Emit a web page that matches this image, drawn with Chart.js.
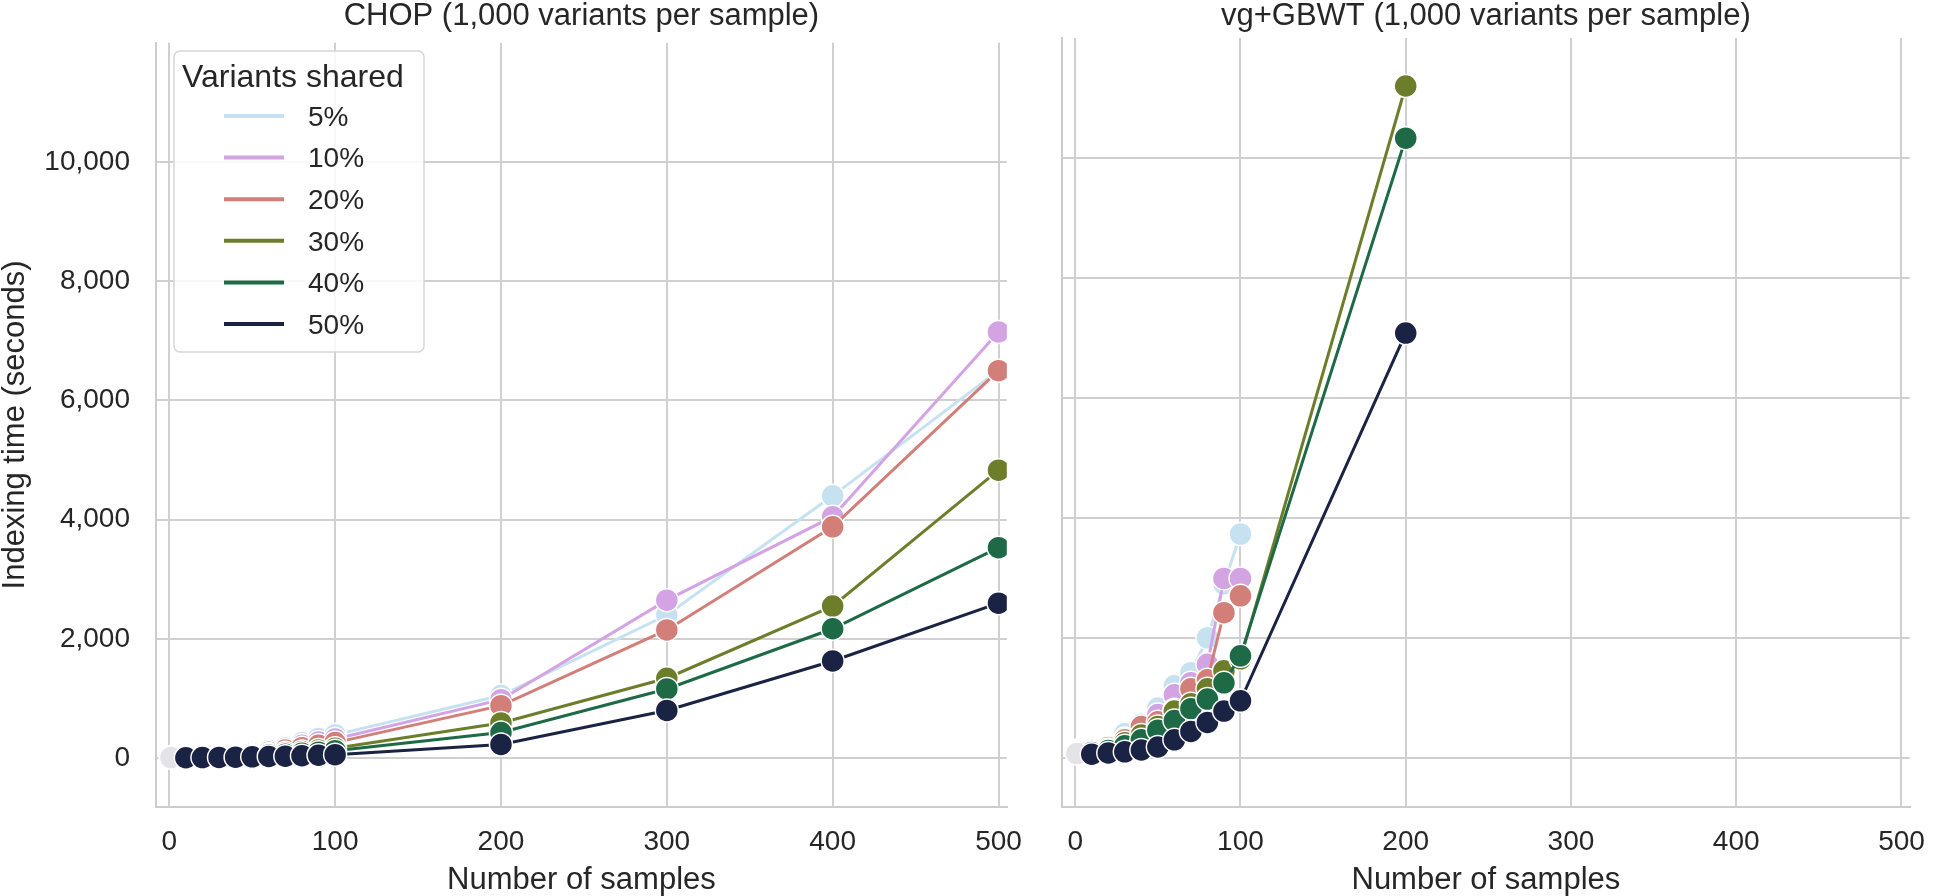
<!DOCTYPE html>
<html>
<head>
<meta charset="utf-8">
<script src="https://cdn.jsdelivr.net/npm/chart.js@4.4.1/dist/chart.umd.min.js"></script>
<style>
  html, body { margin: 0; padding: 0; background: #fff; }
  #wrap { position: relative; width: 1943px; height: 896px; overflow: hidden; }
  canvas { position: absolute; top: 0; }
  #left { left: 0; }
  #right { left: 1040px; }
</style>
</head>
<body>
<div id="wrap">
  <canvas id="left" width="1040" height="896"></canvas>
  <canvas id="right" width="903" height="896"></canvas>
</div>
<script>
// legend entries and colours
const shares = ['5%', '10%', '20%', '30%', '40%', '50%'];
const colors = ['#c6e2f1', '#d4a3e3', '#d27f79', '#6d7e2b', '#1e6a47', '#1b2344'];

// CHOP panel
const chopSamples = [1, 10, 20, 30, 40, 50, 60, 70, 80, 90, 100, 200, 300, 400, 500];
const chop5  = [20, 25, 35, 50, 75, 105, 145, 195, 260, 330, 390, 1050, 2400, 4400, 6500];
const chop10 = [18, 20, 30, 45, 65, 90, 125, 165, 215, 270, 320, 980, 2650, 4050, 7150];
const chop20 = [16, 18, 26, 38, 55, 75, 100, 135, 175, 215, 260, 880, 2150, 3880, 6500];
const chop30 = [14, 15, 20, 28, 40, 52, 68, 88, 110, 135, 165, 590, 1340, 2550, 4830];
const chop40 = [12, 12, 16, 22, 30, 40, 52, 66, 82, 100, 125, 430, 1160, 2170, 3530];
const chop50 = [10, 6, 9, 12, 16, 21, 27, 33, 40, 48, 58, 230, 800, 1630, 2600];

// vg+GBWT panel (5/10/20% stop at 100 samples)
const vgSamples = [1, 10, 20, 30, 40, 50, 60, 70, 80, 90, 100, 200];
const vg5  = [120, 140, 200, 400, 560, 830, 1200, 1420, 2000, 2900, 3730];
const vg10 = [110, 130, 180, 320, 450, 720, 1050, 1250, 1560, 2990, 2990];
const vg20 = [100, 120, 170, 300, 520, 600, 800, 1150, 1300, 2420, 2700];
const vg30 = [90, 100, 140, 250, 380, 520, 780, 900, 1150, 1450, 1650, 11200];
const vg40 = [80, 90, 120, 200, 300, 460, 620, 820, 980, 1250, 1700, 10330];
const vg50 = [70, 60, 80, 100, 130, 180, 300, 440, 590, 780, 950, 7080];

const xTicks = [0, 100, 200, 300, 400, 500];
const yTicks = [0, 2000, 4000, 6000, 8000, 10000];

const family = "'Liberation Sans', Arial, sans-serif";
const textColor = '#262626';
const gridColor = '#d0d0d0';

function makeSets(xs, series) {
  return series.map((ys, i) => ({
    label: shares[i],
    data: ys.map((y, j) => ({ x: xs[j], y: y })),
    borderColor: colors[i],
    backgroundColor: colors[i],
    pointBackgroundColor: c => c.dataIndex === 0 ? '#e4e4e8' : colors[i],
    pointBorderColor: '#ffffff',
    pointBorderWidth: 1.5,
    pointRadius: 11.5,
    borderWidth: 3,
    order: 5 - i
  }));
}

function makeScales(showY) {
  return {
    x: {
      type: 'linear', min: -8, max: 505,
      afterBuildTicks: s => { s.ticks = xTicks.map(v => ({ value: v })); },
      afterFit: s => { s.height = 89; },
      grid: { color: gridColor, lineWidth: 2, drawTicks: false },
      border: { color: '#cccccc', width: 2 },
      ticks: { color: textColor, font: { size: 28, family: family }, padding: 18, maxRotation: 0 },
      title: { display: true, text: 'Number of samples', color: textColor,
               font: { size: 31, family: family, lineHeight: 1.0 }, padding: 0 }
    },
    y: {
      type: 'linear', min: -820, max: 12000,
      afterBuildTicks: s => { s.ticks = yTicks.map(v => ({ value: v })); },
      afterFit: s => { s.width = showY ? 156 : 22; },
      grid: { color: gridColor, lineWidth: 2, drawTicks: false },
      border: { color: '#cccccc', width: 2 },
      ticks: { display: showY, color: textColor, font: { size: 28, family: family }, padding: 26,
               callback: v => v.toLocaleString('en-US') },
      title: { display: showY, text: 'Indexing time (seconds)', color: textColor,
               font: { size: 31, family: family, lineHeight: 1.0 }, padding: 0 }
    }
  };
}

// panel title centred over the plot area
const panelTitle = {
  id: 'panelTitle',
  afterDraw(chart, args, opts) {
    const { ctx, chartArea } = chart;
    ctx.save();
    ctx.font = '31px ' + family;
    ctx.fillStyle = textColor;
    ctx.textAlign = 'center';
    ctx.textBaseline = 'alphabetic';
    ctx.fillText(opts.text, (chartArea.left + chartArea.right) / 2, 25);
    ctx.restore();
  }
};

// legend box inside the left panel
const shareLegend = {
  id: 'shareLegend',
  afterDatasetsDraw(chart) {
    const ctx = chart.ctx;
    ctx.save();
    const bx = 174, by = 51, bw = 250, bh = 301, r = 6;
    ctx.beginPath();
    ctx.moveTo(bx + r, by);
    ctx.arcTo(bx + bw, by, bx + bw, by + bh, r);
    ctx.arcTo(bx + bw, by + bh, bx, by + bh, r);
    ctx.arcTo(bx, by + bh, bx, by, r);
    ctx.arcTo(bx, by, bx + bw, by, r);
    ctx.closePath();
    ctx.fillStyle = 'rgba(255,255,255,0.85)';
    ctx.fill();
    ctx.strokeStyle = '#d6d6d6';
    ctx.lineWidth = 1.5;
    ctx.stroke();

    ctx.fillStyle = textColor;
    ctx.font = '32px ' + family;
    ctx.textAlign = 'left';
    ctx.textBaseline = 'alphabetic';
    ctx.fillText('Variants shared', 182, 87);

    ctx.font = '28px ' + family;
    ctx.textBaseline = 'middle';
    chart.data.datasets.forEach((ds, i) => {
      const y = 116 + i * 41.6;
      ctx.beginPath();
      ctx.moveTo(224, y);
      ctx.lineTo(284, y);
      ctx.strokeStyle = ds.borderColor;
      ctx.lineWidth = 4;
      ctx.stroke();
      ctx.fillStyle = textColor;
      ctx.fillText(ds.label, 308, y + 2);
    });
    ctx.restore();
  }
};

new Chart(document.getElementById('left'), {
  type: 'line',
  data: { datasets: makeSets(chopSamples, [chop5, chop10, chop20, chop30, chop40, chop50]) },
  options: {
    responsive: false, animation: false,
    layout: { padding: { top: 38, right: 14, left: 0, bottom: 0 } },
    scales: makeScales(true),
    plugins: { legend: { display: false }, tooltip: { enabled: false },
               panelTitle: { text: 'CHOP (1,000 variants per sample)' } }
  },
  plugins: [panelTitle, shareLegend]
});

new Chart(document.getElementById('right'), {
  type: 'line',
  data: { datasets: makeSets(vgSamples, [vg5, vg10, vg20, vg30, vg40, vg50]) },
  options: {
    responsive: false, animation: false,
    layout: { padding: { top: 38, right: 16, left: 0, bottom: 0 } },
    scales: makeScales(false),
    plugins: { legend: { display: false }, tooltip: { enabled: false },
               panelTitle: { text: 'vg+GBWT (1,000 variants per sample)' } }
  },
  plugins: [panelTitle]
});
</script>
</body>
</html>
